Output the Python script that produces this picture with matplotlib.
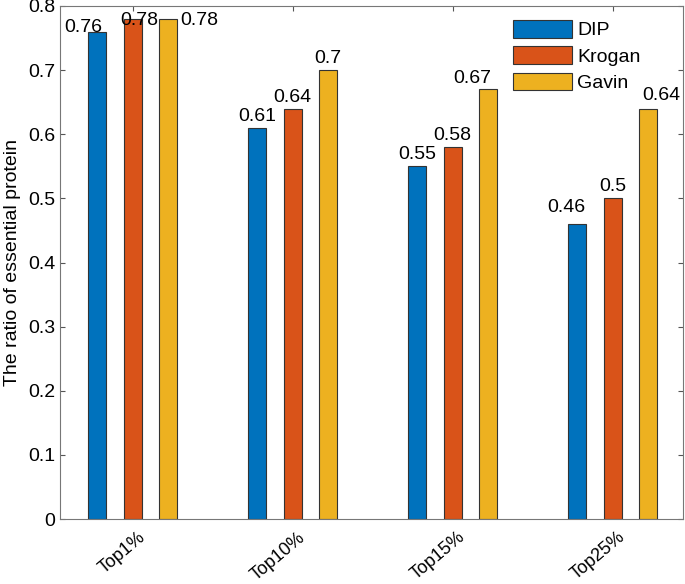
import numpy as np
import matplotlib.pyplot as plt
import matplotlib.transforms as mtransforms

plt.rcParams['font.family'] = ['Liberation Sans', 'DejaVu Sans']

# data
groups = ['Top1%', 'Top10%', 'Top15%', 'Top25%']
series = ['DIP', 'Krogan', 'Gavin']
dip = [0.76, 0.61, 0.55, 0.46]
krogan = [0.78, 0.64, 0.58, 0.50]
gavin = [0.78, 0.70, 0.67, 0.64]
yticks = [0, 0.1, 0.2, 0.3, 0.4, 0.5, 0.6, 0.7, 0.8]

colors = ['#0072BD', '#D95319', '#EDB120']

# label nudges in pixels (dx, dy of baseline above bar top)
nudges = [
    [(-14, 0), (6, -6), (31, -6)],
    [(0, 7), (0, 7), (0, 7)],
    [(0, 7), (0, 7), (-16, 6)],
    [(-11, 12), (0, 7), (13, 9)],
]

fs = 14
fig = plt.figure(figsize=(6.85, 5.84), dpi=100)
ax = fig.add_axes([60 / 685, 65 / 584, 623 / 685, 513 / 584])

x = np.arange(1, len(groups) + 1)
width = 0.1125
offs = [-0.222, 0, 0.222]
px2pt = 72 / 100

for k, vals in enumerate([dip, krogan, gavin]):
    bars = ax.bar(x + offs[k], vals, width, color=colors[k], edgecolor='#333333',
                  linewidth=0.8, label=series[k], zorder=2)
    for i, b in enumerate(bars):
        dx, dy = nudges[i][k]
        ax.annotate('%g' % vals[i], (b.get_x() + b.get_width() / 2, b.get_height()),
                    xytext=(dx * px2pt, dy * px2pt), textcoords='offset points',
                    ha='center', va='baseline', fontsize=fs, zorder=3)

ax.set_xlim(0.545, 4.44)
ax.set_ylim(0, 0.8)
ax.set_yticks(yticks)
ax.set_yticklabels(['%g' % v for v in yticks], fontsize=fs)
ax.set_xticks(x)
ax.set_xticklabels(groups, rotation=40, ha='right', va='top', fontsize=13)
ax.set_ylabel('The ratio of essential protein', fontsize=fs, labelpad=5)

for s in ax.spines.values():
    s.set_color('#777777')
    s.set_linewidth(0.8)
ax.tick_params(direction='in', length=3.5, width=0.8, color='#555555',
               top=True, right=True)
ax.tick_params(axis='x', pad=7)

shift = mtransforms.ScaledTranslation(16 / 100, 0, fig.dpi_scale_trans)
for lab in ax.get_xticklabels():
    lab.set_transform(lab.get_transform() + shift)

ax.legend(loc='upper left', bbox_to_anchor=(0.727, 0.973), frameon=False,
          fontsize=fs, borderpad=0, borderaxespad=0, handlelength=3.04,
          handleheight=1.03, labelspacing=0.35, handletextpad=0.26)

fig.savefig('out.png', dpi=100)
